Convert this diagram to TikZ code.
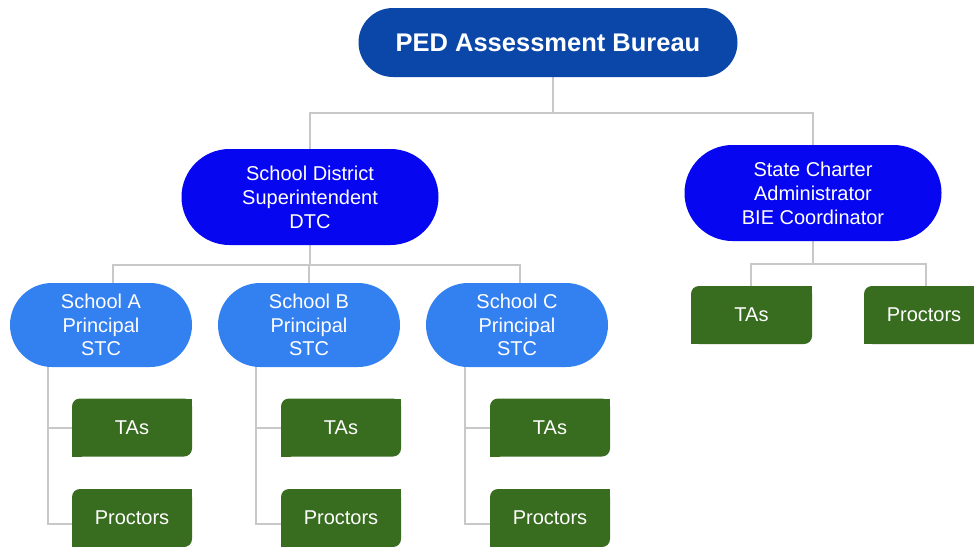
\documentclass[tikz,border=0pt]{standalone}
\usepackage{fontspec}
\setmainfont{Liberation Sans}
\usetikzlibrary{backgrounds}
\definecolor{pedblue}{HTML}{0B47A8}
\definecolor{midblue}{HTML}{0606F0}
\definecolor{schblue}{HTML}{3380F0}
\definecolor{grn}{HTML}{386C1F}
\definecolor{lineg}{HTML}{C8C8C8}
\tikzset{
  pill/.style={draw=none, text=white, align=center, inner sep=0pt},
  toppill/.style={pill, fill=pedblue, minimum width=379pt, minimum height=69pt, rounded corners=34.5pt, font=\fontsize{25.5}{30}\selectfont\bfseries},
  midpill/.style={pill, fill=midblue, minimum width=257pt, minimum height=96pt, rounded corners=48pt, font=\fontsize{20}{24}\selectfont},
  schpill/.style={pill, fill=schblue, minimum width=182pt, minimum height=84pt, rounded corners=42pt, font=\fontsize{20}{23.5}\selectfont},
  grnbox/.style={draw=none, fill=grn, text=white, inner sep=0pt, outer sep=0pt, minimum width=120pt, minimum height=58pt, rounded corners=8pt, font=\fontsize{20}{24}\selectfont},
  conn/.style={draw=lineg, line width=2pt},
}
\newcommand{\sharpen}[1]{%
  \fill[grn] (#1.north east) rectangle ++(-10pt,-10pt);
  \fill[grn] (#1.south west) rectangle ++(10pt,10pt);}
\begin{document}
\begin{tikzpicture}[x=1pt,y=-1pt]
\useasboundingbox (0,0) rectangle (974,546);
% nodes
\node[toppill] (ped) at (548,42.5) {PED Assessment Bureau};
\node[midpill] (sd) at (310,197) {School District\\Superintendent\\DTC};
\node[midpill] (sc) at (813,193) {State Charter\\Administrator\\BIE Coordinator};
\node[schpill] (sa) at (101,325) {School A\\Principal\\STC};
\node[schpill] (sb) at (309,325) {School B\\Principal\\STC};
\node[schpill] (scc) at (517,325) {School C\\Principal\\STC};
\node[grnbox] (ta1) at (132,427.5) {TAs};
\node[grnbox] (pr1) at (132,518) {Proctors};
\node[grnbox] (ta2) at (341,427.5) {TAs};
\node[grnbox] (pr2) at (341,518) {Proctors};
\node[grnbox] (ta3) at (550,427.5) {TAs};
\node[grnbox] (pr3) at (550,518) {Proctors};
\node[grnbox, minimum width=121pt] (sta) at (751.5,315) {TAs};
\node[grnbox] (spr) at (924,315) {Proctors};
\begin{pgfonlayer}{background}
\fill[white] (0,0) rectangle (974,546);
\sharpen{ta1}\sharpen{pr1}\sharpen{ta2}\sharpen{pr2}\sharpen{ta3}\sharpen{pr3}\sharpen{sta}\sharpen{spr}
\draw[conn] ([xshift=5pt]ped.south) -- ++(0,36) -| (sd.north);
\draw[conn] ([xshift=5pt]ped.south) -- ++(0,36) -| (sc.north);
\draw[conn] (sd.south) -- ++(0,20) -| ([xshift=12pt]sa.north);
\draw[conn] (sd.south) -- ++(0,20) -| (sb.north);
\draw[conn] (sd.south) -- ++(0,20) -| ([xshift=3pt]scc.north);
\draw[conn] (sc.south) -- ++(0,23) -| ([xshift=-1pt]sta.north);
\draw[conn] (sc.south) -- ++(0,23) -| ([xshift=2pt]spr.north);
\draw[conn] ([xshift=-53pt]sa.south) |- (ta1.west);
\draw[conn] ([xshift=-53pt]sa.south) |- ([yshift=-6pt]pr1.west);
\draw[conn] ([xshift=-53pt]sb.south) |- (ta2.west);
\draw[conn] ([xshift=-53pt]sb.south) |- ([yshift=-6pt]pr2.west);
\draw[conn] ([xshift=-52pt]scc.south) |- (ta3.west);
\draw[conn] ([xshift=-52pt]scc.south) |- ([yshift=-6pt]pr3.west);
\end{pgfonlayer}
\end{tikzpicture}
\end{document}
